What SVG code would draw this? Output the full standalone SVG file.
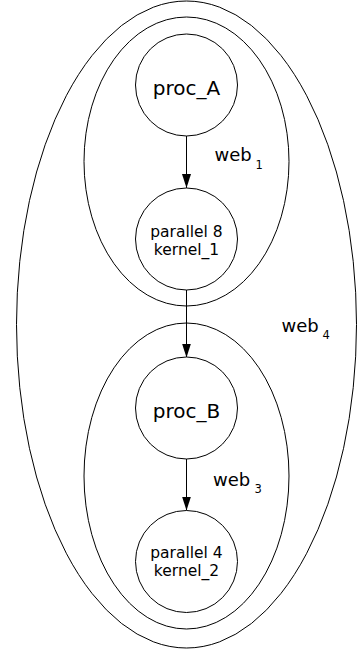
<svg xmlns="http://www.w3.org/2000/svg" width="358" height="653" viewBox="0 0 358 653">
<style>
.c{fill:none;stroke:#000;stroke-width:1}
.n{fill:#fff;stroke:#000;stroke-width:1}
text{font-family:"DejaVu Sans",sans-serif;fill:#000}
.big{font-size:20px}
.sm{font-size:15.5px}
.lbl{font-size:18px}
.sub{font-size:11.5px}
.e{stroke:#000;stroke-width:1;fill:none}
</style>
<defs>
<marker id="ah" markerWidth="14" markerHeight="9" refX="14" refY="4.5" orient="auto" markerUnits="userSpaceOnUse">
<path d="M0,0 L14,4.5 L0,9 Z" fill="#000"/>
</marker>
</defs>
<rect width="358" height="653" fill="#fff"/>
<g id="web4">
<ellipse class="c" cx="186.5" cy="324.5" rx="170" ry="323.5"/>
<text class="lbl" x="281.5" y="331.5">web</text><text class="sub" x="322.5" y="339">4</text>
</g>
<g id="web1">
<ellipse class="c" cx="186.5" cy="161.5" rx="102.5" ry="144.5"/>
<text class="lbl" x="214.5" y="161">web</text><text class="sub" x="255.5" y="169">1</text>
</g>
<g id="web3">
<ellipse class="c" cx="186.5" cy="476" rx="102.5" ry="153"/>
<text class="lbl" x="213" y="485.5">web</text><text class="sub" x="254.5" y="493">3</text>
</g>
<g id="edges">
<line class="e" x1="186.5" y1="136" x2="186.5" y2="188" marker-end="url(#ah)"/>
<line class="e" x1="186.5" y1="290" x2="186.5" y2="357.5" marker-end="url(#ah)"/>
<line class="e" x1="186.5" y1="459" x2="186.5" y2="510.5" marker-end="url(#ah)"/>
</g>
<g id="proc_A">
<circle class="n" cx="186.5" cy="85" r="51"/>
<text class="big" x="186.5" y="95" text-anchor="middle">proc_A</text>
</g>
<g id="kernel_1">
<circle class="n" cx="186.5" cy="239" r="51"/>
<text class="sm" x="186.5" y="237" text-anchor="middle">parallel 8</text>
<text class="sm" x="186.5" y="254.5" text-anchor="middle">kernel_1</text>
</g>
<g id="proc_B">
<circle class="n" cx="186.5" cy="408" r="51"/>
<text class="big" x="186.5" y="417.5" text-anchor="middle">proc_B</text>
</g>
<g id="kernel_2">
<circle class="n" cx="186.5" cy="561.5" r="51"/>
<text class="sm" x="186.5" y="558" text-anchor="middle">parallel 4</text>
<text class="sm" x="186.5" y="576" text-anchor="middle">kernel_2</text>
</g>
</svg>
